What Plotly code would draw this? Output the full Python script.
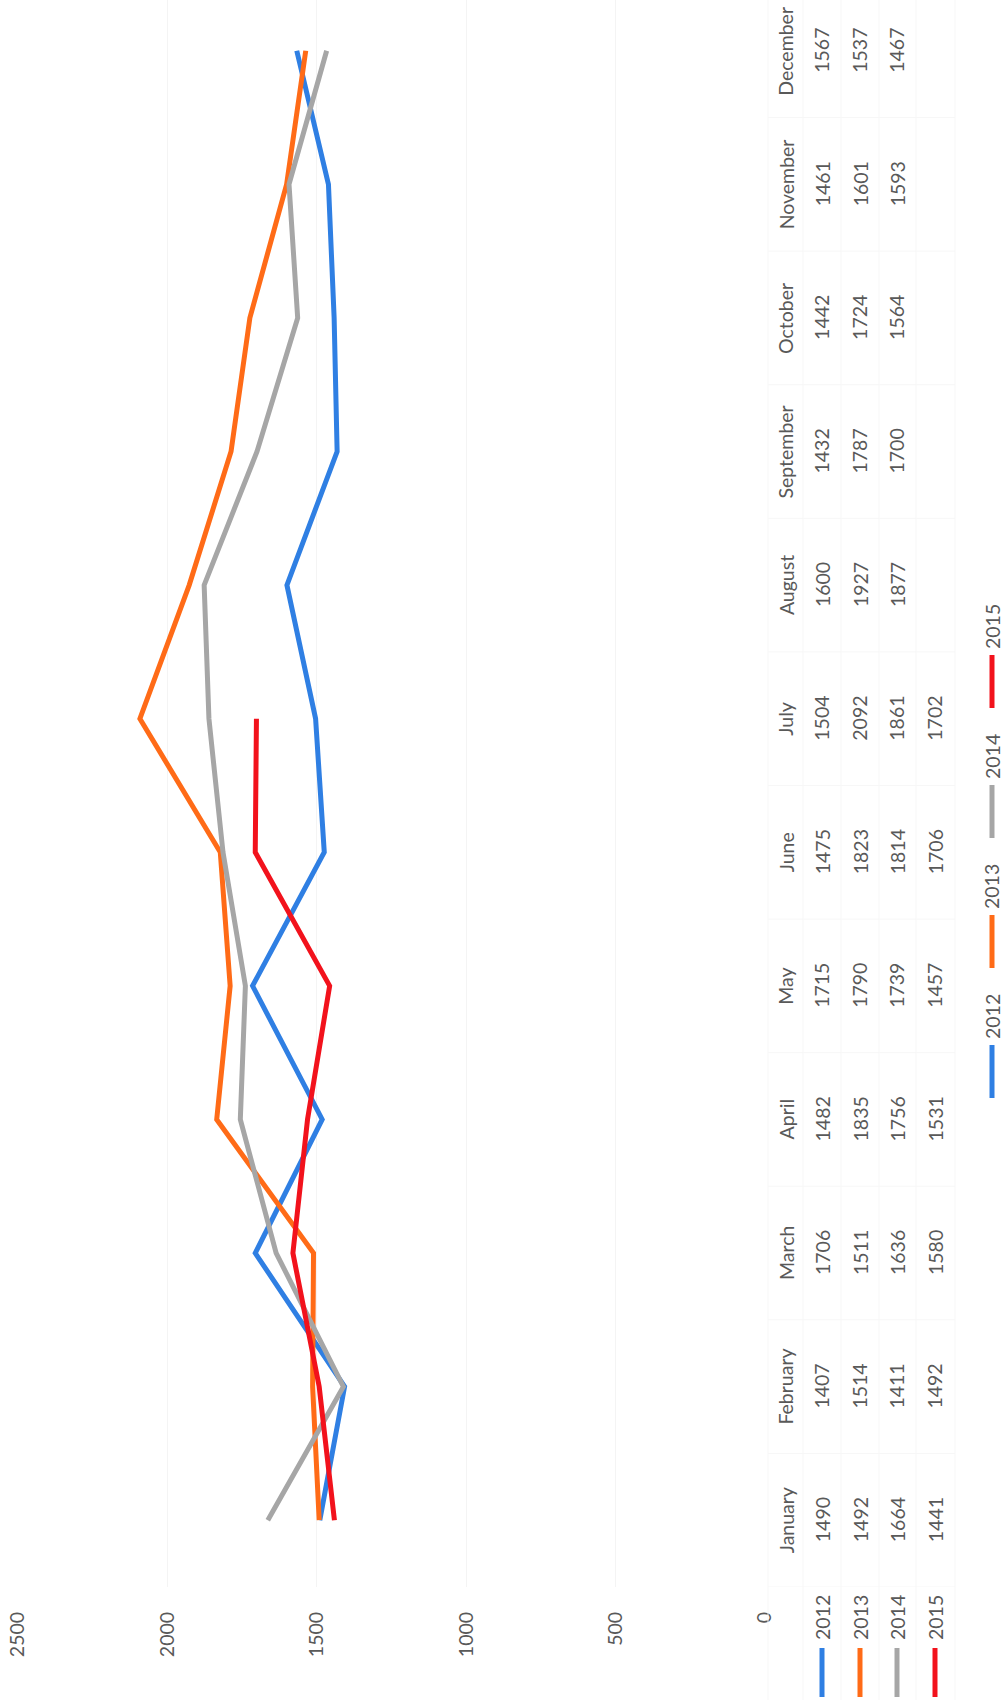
import plotly.graph_objects as go

months = ["January", "February", "March", "April", "May", "June",
          "July", "August", "September", "October", "November", "December"]
series_names = ["2012", "2013", "2014", "2015"]
v2012 = [1490, 1407, 1706, 1482, 1715, 1475, 1504, 1600, 1432, 1442, 1461, 1567]
v2013 = [1492, 1514, 1511, 1835, 1790, 1823, 2092, 1927, 1787, 1724, 1601, 1537]
v2014 = [1664, 1411, 1636, 1756, 1739, 1814, 1861, 1877, 1700, 1564, 1593, 1467]
v2015 = [1441, 1492, 1580, 1531, 1457, 1706, 1702]
value_ticks = [0, 500, 1000, 1500, 2000, 2500]
colors = ["#2F7FE3", "#FF6B17", "#A6A6A6", "#F2121C"]

W, H = 1004, 1707
PL, PR = 18, 765          # plot area left/right in px
PT, PB = 0, 1587          # plot area top/bottom in px
FONT = "Lato"
FCOL = "#595959"
FS = 19.5


def xp(px):
    return (px - PL) / (PR - PL)


def yp(py):
    return (PB - py) / (PB - PT)


fig = go.Figure()
all_series = [v2012, v2013, v2014, v2015]
for name, vals, col in zip(series_names, all_series, colors):
    fig.add_trace(go.Scatter(
        x=vals, y=months[:len(vals)], mode="lines", name=name,
        line=dict(color=col, width=5), showlegend=False))

annotations = []
shapes = []

# data table: month headers and values (rotated text)
col_px = [822, 860, 897, 935]
for i, m in enumerate(months):
    annotations.append(dict(x=xp(786), y=m, xref="paper", yref="y", text=m,
                            textangle=-90, showarrow=False,
                            xanchor="center", yanchor="middle",
                            font=dict(family=FONT, size=FS, color=FCOL)))
    for vals, cx in zip(all_series, col_px):
        if i < len(vals):
            annotations.append(dict(x=xp(cx), y=m, xref="paper", yref="y",
                                    text=str(vals[i]), textangle=-90,
                                    showarrow=False, xanchor="center",
                                    yanchor="middle",
                                    font=dict(family=FONT, size=FS, color=FCOL)))

# faint table borders
for k in range(13):
    yy = k - 0.5
    shapes.append(dict(type="line", xref="paper", yref="y", x0=xp(768), x1=xp(955),
                       y0=yy, y1=yy, line=dict(color="#F7F7F7", width=1)))
for bx in [768, 803, 841, 879, 916, 955]:
    shapes.append(dict(type="line", xref="paper", yref="paper", x0=xp(bx), x1=xp(bx),
                       y0=yp(1700), y1=1, line=dict(color="#F7F7F7", width=1)))

# row headers with legend keys (below plot)
for name, col, cx in zip(series_names, colors, col_px):
    annotations.append(dict(x=xp(cx), y=yp(1618), xref="paper", yref="paper",
                            text=name, textangle=-90, showarrow=False,
                            xanchor="center", yanchor="middle",
                            font=dict(family=FONT, size=FS, color=FCOL)))
    shapes.append(dict(type="line", xref="paper", yref="paper",
                       x0=xp(cx), x1=xp(cx), y0=yp(1648), y1=yp(1697),
                       line=dict(color=col, width=5)))

# chart legend (rotated), on the right
leg_x = 992
for k, (name, col) in enumerate(zip(series_names, colors)):
    key_bottom = 1098 - k * 130
    annotations.append(dict(x=xp(leg_x), y=yp(key_bottom - 53 - 28), xref="paper",
                            yref="paper", text=name, textangle=-90,
                            showarrow=False, xanchor="center", yanchor="middle",
                            font=dict(family=FONT, size=FS, color=FCOL)))
    shapes.append(dict(type="line", xref="paper", yref="paper",
                       x0=xp(leg_x), x1=xp(leg_x), y0=yp(key_bottom),
                       y1=yp(key_bottom - 53), line=dict(color=col, width=5)))

fig.update_layout(
    width=W, height=H,
    margin=dict(l=PL, r=W - PR, t=PT, b=H - PB, pad=0),
    paper_bgcolor="white", plot_bgcolor="white",
    font=dict(family=FONT, size=FS, color=FCOL),
    xaxis=dict(range=[2500, 0], tickvals=value_ticks, tickangle=-90,
               showgrid=True, gridcolor="#F4F4F4", gridwidth=1,
               zeroline=False, showline=False, ticks="",
               ticklabelstandoff=20,
               tickfont=dict(family=FONT, size=FS, color=FCOL)),
    yaxis=dict(type="category", categoryorder="array", categoryarray=months,
               range=[-0.5, 11.38], showticklabels=False, showgrid=False,
               zeroline=False, showline=False, ticks=""),
    annotations=annotations, shapes=shapes, showlegend=False,
)

fig.write_html(
    "out.html",
    config={"displayModeBar": False},
    post_script="document.body.style.margin='0';document.body.style.overflow='hidden';",
)
